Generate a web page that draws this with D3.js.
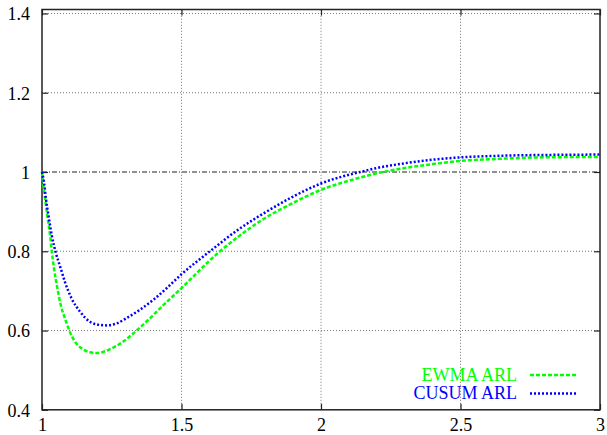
<!DOCTYPE html>
<html>
<head>
<meta charset="utf-8">
<script src="https://cdn.jsdelivr.net/npm/d3@7"></script>
<style>
  html, body { margin: 0; padding: 0; background: #fff; }
  svg { display: block; }
  text { font-family: "Liberation Serif", "DejaVu Serif", serif; font-size: 18px; }
</style>
</head>
<body>
<svg id="chart" width="607" height="435"></svg>
<script>
// Shift values (x) and relative ARL for each control scheme
const ewmaX = [1.0, 1.005, 1.011, 1.019, 1.029, 1.035, 1.043, 1.053, 1.067, 1.082, 1.098, 1.118, 1.142, 1.172, 1.196, 1.244, 1.291, 1.339, 1.387, 1.435, 1.5, 1.6, 1.638, 1.7, 1.8, 1.9, 2.0, 2.1, 2.222, 2.3, 2.4, 2.5, 2.6, 2.7, 2.8, 3.0];
const ewmaY = [1.0, 0.966, 0.933, 0.891, 0.84, 0.8, 0.757, 0.715, 0.665, 0.631, 0.6, 0.572, 0.555, 0.545, 0.543, 0.553, 0.572, 0.6, 0.631, 0.664, 0.707, 0.776, 0.8, 0.835, 0.884, 0.922, 0.955, 0.978, 1.0, 1.01, 1.02, 1.028, 1.032, 1.035, 1.037, 1.038];

const cusumX = [1.0, 1.007, 1.014, 1.023, 1.035, 1.05, 1.067, 1.082, 1.106, 1.136, 1.172, 1.208, 1.232, 1.268, 1.3, 1.35, 1.4, 1.45, 1.5, 1.602, 1.7, 1.8, 1.9, 2.0, 2.14, 2.2, 2.3, 2.4, 2.5, 2.6, 2.7, 2.8, 3.0];
const cusumY = [1.0, 0.975, 0.933, 0.891, 0.84, 0.795, 0.757, 0.723, 0.681, 0.648, 0.622, 0.614, 0.613, 0.618, 0.630, 0.652, 0.678, 0.709, 0.742, 0.8, 0.853, 0.898, 0.938, 0.971, 1.0, 1.01, 1.022, 1.031, 1.037, 1.04, 1.042, 1.043, 1.044];

const xTicks = [1, 1.5, 2, 2.5, 3];
const xTickLabels = ["1", "1.5", "2", "2.5", "3"];
const yTicks = [0.4, 0.6, 0.8, 1.0, 1.2, 1.4];
const yTickLabels = ["0.4", "0.6", "0.8", "1", "1.2", "1.4"];
const referenceLevel = 1.0;

const seriesNames = ["EWMA ARL", "CUSUM ARL"];
const seriesColors = ["#00ff00", "#0000ff"];

const svg = d3.select("#chart");
const plotLeft = 42, plotRight = 600, plotTop = 9.5, plotBottom = 409.8;

const x = d3.scaleLinear().domain([1, 3]).range([plotLeft, plotRight]);
const y = d3.scaleLinear().domain([0.4, 1.41]).range([plotBottom, plotTop]);

// grid
const grid = svg.append("g");
grid.selectAll(".gx").data(xTicks.filter(t => t > 1 && t < 3)).join("line")
  .attr("x1", d => x(d)).attr("x2", d => x(d))
  .attr("y1", plotBottom).attr("y2", plotTop)
  .attr("stroke", "#777").attr("stroke-width", 1).attr("stroke-dasharray", "1,2");
grid.selectAll(".gy").data(yTicks.filter(t => t > 0.4 && t !== referenceLevel)).join("line")
  .attr("x1", plotLeft).attr("x2", plotRight)
  .attr("y1", d => y(d)).attr("y2", d => y(d))
  .attr("stroke", "#777").attr("stroke-width", 1).attr("stroke-dasharray", "1,2");

// reference line at ARL ratio 1
svg.append("line")
  .attr("x1", plotLeft).attr("x2", plotRight)
  .attr("y1", y(referenceLevel)).attr("y2", y(referenceLevel))
  .attr("stroke", "#222").attr("stroke-width", 1.2).attr("stroke-dasharray", "5,2,1,2");

// axes with inward ticks, mirrored on the opposite side
const xAxis = d3.axisBottom(x).tickValues(xTicks).tickFormat((d, i) => xTickLabels[i]).tickSizeInner(-6).tickSizeOuter(0).tickPadding(8);
const yAxis = d3.axisLeft(y).tickValues(yTicks).tickFormat((d, i) => yTickLabels[i]).tickSizeInner(-6).tickSizeOuter(0).tickPadding(12);
const gx = svg.append("g").attr("transform", `translate(0,${plotBottom})`).call(xAxis);
const gy = svg.append("g").attr("transform", `translate(${plotLeft},0)`).call(yAxis);
const gxTop = svg.append("g").attr("transform", `translate(0,${plotTop})`).call(d3.axisTop(x).tickValues(xTicks).tickSizeInner(-6).tickSizeOuter(0).tickFormat(""));
const gyRight = svg.append("g").attr("transform", `translate(${plotRight},0)`).call(d3.axisRight(y).tickValues(yTicks).tickSizeInner(-6).tickSizeOuter(0).tickFormat(""));
[gx, gy, gxTop, gyRight].forEach(g => {
  g.select(".domain").remove();
  g.selectAll(".tick line").attr("stroke", "#222").attr("stroke-width", 1.2);
  g.selectAll("text").attr("fill", "#000").style("font-family", "Liberation Serif, serif").style("font-size", "18px");
});
gy.selectAll("text").attr("dy", "0.35em");

// border
svg.append("rect")
  .attr("x", plotLeft).attr("y", plotTop)
  .attr("width", plotRight - plotLeft).attr("height", plotBottom - plotTop)
  .attr("fill", "none").attr("stroke", "#222").attr("stroke-width", 1.5);

// curves
const line = d3.line().x(d => x(d[0])).y(d => y(d[1])).curve(d3.curveMonotoneX);
const ewma = ewmaX.map((v, i) => [v, ewmaY[i]]);
const cusum = cusumX.map((v, i) => [v, cusumY[i]]);
const dashes = ["4,2", "2,2"];

svg.append("path").datum(ewma).attr("d", line)
  .attr("fill", "none").attr("stroke", seriesColors[0]).attr("stroke-width", 2.5).attr("stroke-dasharray", dashes[0]);
svg.append("path").datum(cusum).attr("d", line)
  .attr("fill", "none").attr("stroke", seriesColors[1]).attr("stroke-width", 2.5).attr("stroke-dasharray", dashes[1]);

// legend
const legend = svg.append("g");
seriesNames.forEach((name, i) => {
  const yy = 375 + i * 18.5;
  legend.append("text").attr("x", 517).attr("y", yy).attr("dy", "0.33em")
    .attr("text-anchor", "end").attr("fill", seriesColors[i]).text(name);
  legend.append("line").attr("x1", 530).attr("x2", 577).attr("y1", yy).attr("y2", yy)
    .attr("stroke", seriesColors[i]).attr("stroke-width", 2.5).attr("stroke-dasharray", dashes[i]);
});
</script>
</body>
</html>
